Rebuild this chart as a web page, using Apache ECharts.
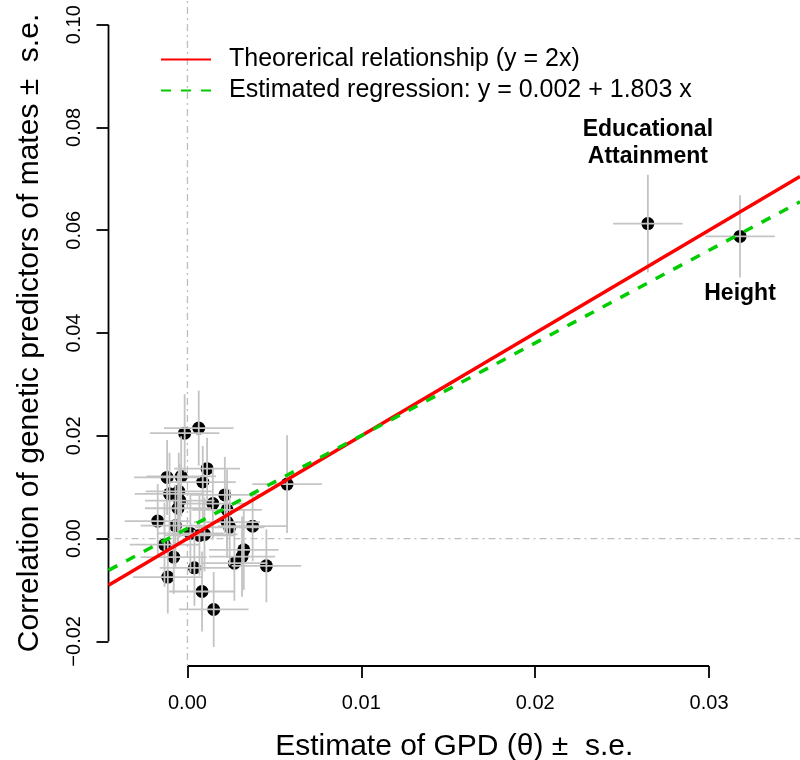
<!DOCTYPE html>
<html>
<head>
<meta charset="utf-8">
<script src="https://cdn.jsdelivr.net/npm/echarts@6/dist/echarts.min.js"></script>
<style>
    html, body { margin: 0; padding: 0; background: #fff; }
    #chart { width: 800px; height: 760px; }
</style>
</head>
<body>
<div id="chart"></div>
<script>
// GPD estimates (x) and their standard errors
const gpd = [
    -0.00016, 0.00065, 0.00113, -0.00117, -0.00036, 0.00088, -0.00103, -0.00050,
    -0.00044, -0.00054, 0.00215, 0.00146, 0.00228, -0.00171, -0.00069, 0.00228,
    0.00243, 0.00375, 0.00573, 0.00017, 0.00069, 0.00098, -0.00132, -0.00079,
    0.00040, 0.00270, 0.00324, 0.00314, 0.00454, -0.00113, 0.00084, 0.00151,
    0.02648, 0.03178
];
const gpdSe = [
    0.0020, 0.0020, 0.0019, 0.0019, 0.0020, 0.0019, 0.0020, 0.0019,
    0.0020, 0.0019, 0.0020, 0.0019, 0.0020, 0.0019, 0.0020, 0.0019,
    0.0020, 0.0020, 0.0020, 0.0019, 0.0020, 0.0019, 0.0020, 0.0019,
    0.0020, 0.0019, 0.0020, 0.0019, 0.0020, 0.0020, 0.0019, 0.0020,
    0.0020, 0.0020
];
// correlation of genetic predictors of mates (y) and standard errors
const corr = [
    0.0205, 0.0215, 0.0136, 0.0119, 0.0121, 0.0110, 0.0087, 0.0092,
    0.0074, 0.0059, 0.0085, 0.0068, 0.0056, 0.0034, 0.0025, 0.0032,
    0.0022, 0.0024, 0.0106, 0.0010, 0.0006, 0.0008, -0.0012, -0.0036,
    -0.0057, -0.0048, -0.0022, -0.0035, -0.0053, -0.0075, -0.0103, -0.0138,
    0.0613, 0.0588
];
const corrSe = [
    0.0076, 0.0073, 0.0060, 0.0073, 0.0078, 0.0070, 0.0080, 0.0075,
    0.0072, 0.0068, 0.0074, 0.0070, 0.0078, 0.0072, 0.0080, 0.0070,
    0.0074, 0.0068, 0.0095, 0.0076, 0.0078, 0.0072, 0.0082, 0.0072,
    0.0074, 0.0073, 0.0078, 0.0078, 0.0071, 0.0071, 0.0078, 0.0073,
    0.0095, 0.0080
];
const pointNames = [
    '', '', '', '', '', '', '', '', '', '', '', '', '', '', '', '', '',
    '', '', '', '', '', '', '', '', '', '', '', '', '', '', '',
    'Educational\nAttainment', 'Height'
];

// tick values
const xTicks = [0, 0.01, 0.02, 0.03];
const yTicks = [-0.02, 0, 0.02, 0.04, 0.06, 0.08, 0.10];

// lines
const theoryName = 'Theorerical relationship (y = 2x)';
const theorySlope = 2;
const regName = 'Estimated regression: y = 0.002 + 1.803 x';
const regIntercept = 0.002;
const regSlope = 1.803;

const xMin = -0.00454, xMax = 0.03523;
const yMin = -0.0248, yMax = 0.1048;

const FONT = "'Liberation Sans', Arial, Helvetica, sans-serif";

document.addEventListener('DOMContentLoaded', function() {
    const chart = echarts.init(document.getElementById('chart'));

    const points = gpd.map((x, i) => ({
        value: [x, corr[i]],
        label: pointNames[i] ? {
            show: true,
            formatter: pointNames[i],
            position: i === gpd.length - 1 ? 'bottom' : 'top',
            distance: i === gpd.length - 1 ? 37 : 47
        } : { show: false }
    }));

    const bars = gpd.map((x, i) => [x, corr[i], gpdSe[i], corrSe[i]]);

    const option = {
        animation: false,
        backgroundColor: '#fff',
        textStyle: { fontFamily: FONT },
        grid: { left: 108.5, right: 0, top: 0, bottom: 94, outerBoundsMode: 'none', containLabel: false },
        legend: {
            orient: 'vertical',
            left: 155,
            top: 42,
            itemWidth: 50,
            itemHeight: 14,
            itemGap: 6,
            data: [theoryName, regName],
            itemStyle: { opacity: 0 },
            textStyle: {
                fontSize: 25,
                lineHeight: 25,
                color: '#000',
                fontFamily: FONT,
                padding: [0, 0, 0, 13]
            },
            selectedMode: false
        },
        xAxis: {
            type: 'value',
            min: xMin,
            max: xMax,
            name: 'Estimate of GPD (θ) ±  s.e.',
            nameLocation: 'middle',
            nameGap: 66,
            nameTextStyle: { fontSize: 30, color: '#000', fontFamily: FONT },
            axisLine: { show: false, onZero: false },
            splitLine: { show: false },
            axisTick: {
                customValues: xTicks,
                length: 12,
                lineStyle: { color: '#000', width: 1.8 }
            },
            axisLabel: {
                customValues: xTicks,
                margin: 27,
                fontSize: 20,
                color: '#000',
                fontFamily: FONT,
                formatter: v => v.toFixed(2)
            }
        },
        yAxis: {
            type: 'value',
            min: yMin,
            max: yMax,
            name: 'Correlation of genetic predictors of mates ±  s.e.',
            nameLocation: 'middle',
            nameGap: 64,
            nameRotate: 90,
            nameTextStyle: { fontSize: 30, color: '#000', fontFamily: FONT },
            axisLine: { show: false, onZero: false },
            splitLine: { show: false },
            axisTick: {
                customValues: yTicks,
                length: 12,
                lineStyle: { color: '#000', width: 1.8 }
            },
            axisLabel: {
                customValues: yTicks,
                rotate: 90,
                margin: 24,
                fontSize: 20,
                color: '#000',
                fontFamily: FONT,
                formatter: v => (v < 0 ? '\u2212' + Math.abs(v).toFixed(2) : v.toFixed(2))
            }
        },
        series: [
            // axis lines, drawn only over the tick range
            {
                type: 'line',
                silent: true,
                clip: false,
                symbol: 'none',
                z: 1,
                lineStyle: { color: '#000', width: 1.8 },
                data: [[xTicks[0], yMin], [xTicks[xTicks.length - 1], yMin]]
            },
            {
                type: 'line',
                silent: true,
                clip: false,
                symbol: 'none',
                z: 1,
                lineStyle: { color: '#000', width: 1.8 },
                data: [[xMin, yTicks[0]], [xMin, yTicks[yTicks.length - 1]]]
            },
            // zero reference lines
            {
                type: 'line',
                silent: true,
                symbol: 'none',
                z: 1,
                lineStyle: { color: '#bdbdbd', width: 1.3, type: [2, 4, 7, 4] },
                data: [[0, yMin], [0, yMax]]
            },
            {
                type: 'line',
                silent: true,
                symbol: 'none',
                z: 1,
                lineStyle: { color: '#bdbdbd', width: 1.3, type: [2, 4, 7, 4] },
                data: [[xMin, 0], [xMax, 0]]
            },
            // points
            {
                type: 'scatter',
                symbol: 'circle',
                symbolSize: 13,
                z: 2,
                itemStyle: { color: '#000', opacity: 1 },
                label: {
                    fontSize: 23,
                    lineHeight: 27,
                    fontWeight: 'bold',
                    color: '#000',
                    fontFamily: FONT
                },
                data: points
            },
            // error bars
            {
                type: 'custom',
                z: 3,
                silent: true,
                encode: { x: 0, y: 1 },
                data: bars,
                renderItem: function(params, api) {
                    const x = api.value(0), y = api.value(1);
                    const sx = api.value(2), sy = api.value(3);
                    const a = api.coord([x - sx, y]);
                    const b = api.coord([x + sx, y]);
                    const c = api.coord([x, y - sy]);
                    const d = api.coord([x, y + sy]);
                    const style = { stroke: '#c4c4c4', lineWidth: 1.8 };
                    return {
                        type: 'group',
                        children: [
                            { type: 'line', shape: { x1: a[0], y1: a[1], x2: b[0], y2: b[1] }, style: style },
                            { type: 'line', shape: { x1: c[0], y1: c[1], x2: d[0], y2: d[1] }, style: style }
                        ]
                    };
                }
            },
            // theoretical and fitted lines
            {
                name: theoryName,
                type: 'line',
                symbol: 'none',
                z: 4,
                color: '#ff0000',
                lineStyle: { color: '#ff0000', width: 3.5 },
                data: [[xMin, theorySlope * xMin], [xMax, theorySlope * xMax]]
            },
            {
                name: regName,
                type: 'line',
                symbol: 'none',
                z: 4,
                color: '#00cd00',
                lineStyle: { color: '#00cd00', width: 3.5, type: [10, 10] },
                data: [[xMin, regIntercept + regSlope * xMin], [xMax, regIntercept + regSlope * xMax]]
            }
        ]
    };

    chart.setOption(option);
});
</script>
</body>
</html>
